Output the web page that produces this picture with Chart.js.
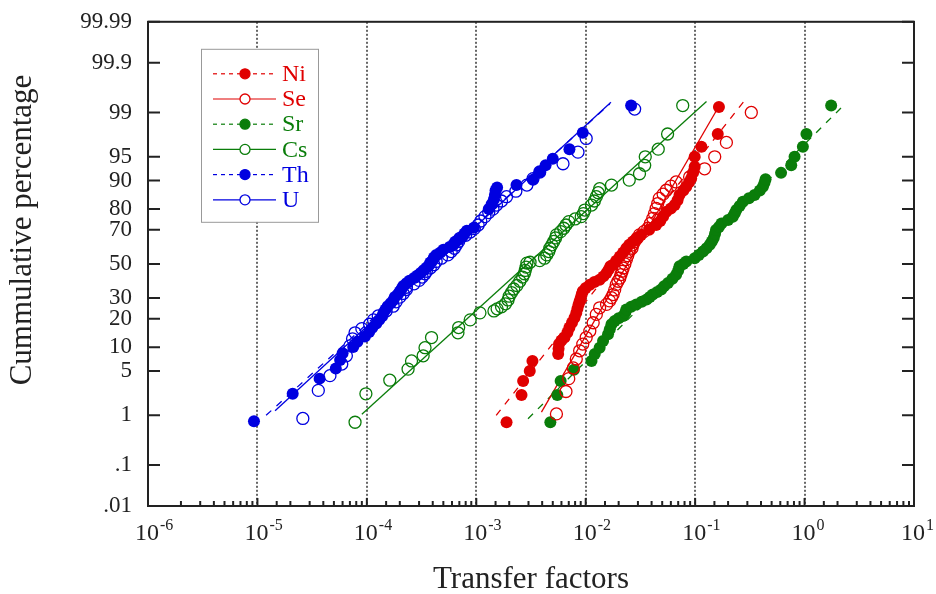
<!DOCTYPE html>
<html>
<head>
<meta charset="utf-8">
<title>Transfer factors - cumulative percentage</title>
<script src="https://cdn.jsdelivr.net/npm/chart.js@4.4.1/dist/chart.umd.min.js"></script>
<style>
  html, body { margin: 0; padding: 0; background: #fff; }
  #wrap { width: 936px; height: 594px; }
</style>
</head>
<body>
<div id="wrap"><canvas id="myChart" width="936" height="594"></canvas></div>
<script>
// ---- data ----
const yTickValues = [0.01, 0.1, 1, 5, 10, 20, 30, 50, 70, 80, 90, 95, 99, 99.9, 99.99];
const xTickExponents = [-6, -5, -4, -3, -2, -1, 0, 1];

const niX = [1.89e-3, 2.59e-3, 2.68e-3, 3.08e-3, 3.26e-3, 5.6e-3, 5.65e-3, 5.7e-3, 6.0e-3, 6.4e-3, 6.8e-3, 7.1e-3, 7.5e-3, 7.9e-3, 8.2e-3, 8.4e-3, 8.6e-3, 8.8e-3, 9.0e-3, 9.2e-3, 9.4e-3, 1.0e-2, 1.09e-2, 1.2e-2, 1.34e-2, 1.45e-2, 1.55e-2, 1.62e-2, 1.68e-2, 1.78e-2, 1.9e-2, 2.05e-2, 2.2e-2, 2.35e-2, 2.5e-2, 2.7e-2, 2.95e-2, 3.2e-2, 3.8e-2, 4.4e-2, 4.8e-2, 5.1e-2, 5.45e-2, 6.0e-2, 6.5e-2, 6.9e-2, 7.2e-2, 7.8e-2, 8.3e-2, 8.8e-2, 9.2e-2, 9.6e-2, 9.9e-2, 9.9e-2, 0.114, 0.161, 0.165];
const niPct = [0.75, 2.2, 3.6, 5.0, 6.8, 8.3, 9.6, 10.9, 12, 12.9, 14.6, 16.4, 18.4, 20.4, 22.5, 24.5, 26.5, 28.3, 30, 32, 33.7, 35.5, 37.5, 39, 40.4, 42.4, 44.4, 46.5, 48.5, 49.5, 52, 54.6, 57, 59.5, 61.5, 63.4, 65.3, 67.2, 70, 72.5, 74.5, 76.7, 78.8, 80.3, 81.7, 83.6, 85.5, 87, 88.2, 89.5, 90.5, 92, 93.2, 95, 96.4, 97.7, 99.2];

const seX = [5.4e-3, 6.6e-3, 7.0e-3, 7.7e-3, 8.2e-3, 8.8e-3, 9.4e-3, 1.01e-2, 1.09e-2, 1.17e-2, 1.25e-2, 1.34e-2, 1.55e-2, 1.65e-2, 1.72e-2, 1.78e-2, 1.84e-2, 1.9e-2, 1.97e-2, 2.05e-2, 2.1e-2, 2.15e-2, 2.2e-2, 2.28e-2, 2.35e-2, 2.42e-2, 2.5e-2, 2.65e-2, 2.7e-2, 2.8e-2, 2.95e-2, 3.1e-2, 3.4e-2, 3.7e-2, 3.9e-2, 4.1e-2, 4.25e-2, 4.4e-2, 4.55e-2, 4.7e-2, 5.1e-2, 5.45e-2, 6.0e-2, 6.7e-2, 8.9e-2, 0.122, 0.151, 0.193, 0.326];
const sePct = [1.06, 2.5, 3.9, 5.5, 7.2, 9.1, 10.9, 12.9, 15.1, 18.3, 21.9, 25, 26.7, 28.5, 30.2, 31.9, 34.5, 37.5, 39.5, 41.4, 43.5, 45.5, 47.5, 50, 52.6, 55, 57.6, 59.5, 61.5, 63.4, 65.3, 67.2, 69, 70.8, 73.3, 75.8, 78, 80.3, 82.3, 84.3, 85.8, 87.1, 88.4, 89.6, 90.9, 92.8, 95, 96.9, 99.0];

const srX = [4.75e-3, 5.5e-3, 5.9e-3, 7.8e-3, 1.13e-2, 1.21e-2, 1.34e-2, 1.44e-2, 1.6e-2, 1.66e-2, 1.72e-2, 1.84e-2, 2.0e-2, 2.2e-2, 2.3e-2, 2.35e-2, 2.6e-2, 2.9e-2, 3.25e-2, 3.6e-2, 3.85e-2, 4.1e-2, 4.5e-2, 4.9e-2, 5.2e-2, 5.65e-2, 6.2e-2, 6.7e-2, 7.0e-2, 7.2e-2, 7.8e-2, 8.3e-2, 9.9e-2, 0.108, 0.118, 0.127, 0.136, 0.142, 0.148, 0.152, 0.155, 0.165, 0.174, 0.2, 0.221, 0.23, 0.238, 0.255, 0.273, 0.31, 0.349, 0.39, 0.416, 0.43, 0.44, 0.61, 0.755, 0.81, 0.965, 1.04, 1.75];
const srPct = [0.75, 2.2, 3.6, 5.2, 6.8, 8.3, 9.9, 11.8, 14, 15.8, 17.7, 19, 20.2, 21.2, 22.7, 24.2, 25.5, 26.7, 28, 29.2, 30.5, 31.9, 33.3, 34.7, 36.5, 38.5, 41, 43.4, 46, 48.5, 50, 51.5, 53.5, 55.5, 57.6, 59.5, 61.5, 63.4, 65.5, 67.8, 69.9, 71.5, 73.3, 75, 76.6, 78.2, 79.6, 81.3, 83, 84.3, 85.5, 87, 88.2, 89.3, 90.3, 91.9, 93.5, 95, 96.4, 97.7, 99.25];

const csX = [7.8e-5, 9.8e-5, 1.62e-4, 2.38e-4, 2.56e-4, 3.27e-4, 3.4e-4, 3.9e-4, 6.8e-4, 6.9e-4, 8.8e-4, 1.08e-3, 1.45e-3, 1.55e-3, 1.7e-3, 1.85e-3, 1.95e-3, 2.0e-3, 2.1e-3, 2.2e-3, 2.35e-3, 2.5e-3, 2.65e-3, 2.75e-3, 2.8e-3, 2.85e-3, 2.9e-3, 3.1e-3, 3.8e-3, 4.2e-3, 4.4e-3, 4.6e-3, 4.7e-3, 4.9e-3, 5.1e-3, 5.3e-3, 5.4e-3, 5.9e-3, 6.3e-3, 6.6e-3, 7.0e-3, 8.0e-3, 9.1e-3, 9.5e-3, 9.8e-3, 1.13e-2, 1.2e-2, 1.25e-2, 1.3e-2, 1.34e-2, 1.72e-2, 2.5e-2, 3.1e-2, 3.46e-2, 3.5e-2, 4.6e-2, 5.6e-2, 7.7e-2];
const csPct = [0.75, 2.3, 3.7, 5.3, 6.8, 7.9, 9.9, 12.9, 14.5, 16.4, 19.5, 22.6, 23.5, 24.5, 25.5, 27, 29, 31, 33, 35, 37, 39.5, 42, 44, 46, 48, 50.5, 51, 52, 53.5, 55.5, 57.5, 59.5, 61.5, 63.5, 65.5, 67.2, 69, 70.8, 72.5, 74.2, 75.5, 76.6, 78, 79.6, 81.7, 83.3, 84.9, 86.3, 87.6, 88.7, 90.1, 91.7, 93.5, 95, 96.1, 97.7, 99.25];

const thX = [9.3e-6, 2.1e-5, 3.7e-5, 5.2e-5, 5.7e-5, 6.0e-5, 7.5e-5, 8.2e-5, 9.6e-5, 1.05e-4, 1.12e-4, 1.22e-4, 1.3e-4, 1.38e-4, 1.42e-4, 1.48e-4, 1.55e-4, 1.65e-4, 1.75e-4, 1.8e-4, 1.92e-4, 2.0e-4, 2.08e-4, 2.15e-4, 2.3e-4, 2.45e-4, 2.7e-4, 2.9e-4, 3.1e-4, 3.3e-4, 3.5e-4, 3.7e-4, 3.8e-4, 4.0e-4, 4.1e-4, 4.3e-4, 4.7e-4, 5.0e-4, 5.7e-4, 6.2e-4, 6.4e-4, 6.9e-4, 7.5e-4, 7.8e-4, 8.2e-4, 9.5e-4, 1.3e-3, 1.38e-3, 1.45e-3, 1.48e-3, 1.5e-3, 1.55e-3, 2.33e-3, 3.3e-3, 3.8e-3, 4.3e-3, 5.0e-3, 7.1e-3, 9.4e-3, 2.6e-2];
const thPct = [0.78, 2.3, 3.9, 5.4, 7.0, 8.5, 10.1, 11.6, 13.2, 14.8, 16.3, 18, 19.5, 21.1, 22.6, 24.2, 25.8, 27.3, 28.9, 30.5, 32, 33.6, 35.2, 36.7, 38.3, 39.8, 41.4, 43, 44.5, 46.1, 47.7, 49.2, 50.8, 52.3, 53.9, 55.5, 57, 58.6, 60.2, 61.7, 63.3, 64.8, 66.4, 68, 69.5, 71.1, 80, 82, 84, 85.5, 87, 88, 88.7, 90.2, 92.1, 93.5, 94.7, 96.1, 97.8, 99.25];

const uX = [2.6e-5, 3.6e-5, 4.6e-5, 5.9e-5, 6.5e-5, 7.0e-5, 7.4e-5, 7.8e-5, 9.0e-5, 1.06e-4, 1.15e-4, 1.27e-4, 1.5e-4, 1.74e-4, 1.85e-4, 2.0e-4, 2.15e-4, 2.3e-4, 2.3e-4, 2.7e-4, 3.0e-4, 3.2e-4, 3.4e-4, 3.5e-4, 3.8e-4, 4.1e-4, 4.3e-4, 4.8e-4, 5.5e-4, 5.9e-4, 6.3e-4, 6.6e-4, 6.9e-4, 7.1e-4, 8.0e-4, 8.8e-4, 9.6e-4, 1.04e-3, 1.1e-3, 1.2e-3, 1.3e-3, 1.42e-3, 1.53e-3, 1.7e-3, 1.89e-3, 2.3e-3, 2.9e-3, 3.3e-3, 3.8e-3, 6.2e-3, 8.5e-3, 1.01e-2, 2.8e-2];
const uPct = [0.88, 2.6, 4.3, 6.2, 7.9, 10.4, 12.5, 14.5, 16, 17.7, 19.5, 21.2, 23.5, 25.8, 28, 30.5, 32.5, 34.7, 36, 38, 40, 42, 44, 45.5, 47.5, 49.5, 51.5, 53.5, 55.5, 57.5, 59.5, 61.5, 63.5, 65.3, 67, 68.8, 70.6, 72.5, 74.5, 76.6, 78.5, 80, 81.7, 83.3, 84.9, 86.8, 88.7, 90.5, 92.1, 93.8, 95.7, 97.3, 99.13];

// fitted lines, two end points each
const niFitX = [1.52e-3, 0.289];  const niFitPct = [1.0, 99.43];
const seFitX = [3.94e-3, 0.167];  const seFitPct = [1.14, 99.26];
const srFitX = [2.97e-3, 2.18];   const srFitPct = [0.87, 99.19];
const csFitX = [9.0e-5, 0.127];   const csFitPct = [1.05, 99.37];
const thFitX = [1.2e-5, 1.66e-2]; const thFitPct = [1.0, 99.3];
const uFitX = [1.45e-5, 1.7e-2];  const uFitPct = [1.2, 99.35];

const RED = '#e00000', GREEN = '#0a7d0a', BLUE = '#0000e0';
const SERIF = "'Liberation Serif', 'Times New Roman', serif";

const series = [
    { name: 'Ni', color: RED,   filled: true,  x: niX, p: niPct, fx: niFitX, fp: niFitPct },
    { name: 'Se', color: RED,   filled: false, x: seX, p: sePct, fx: seFitX, fp: seFitPct },
    { name: 'Sr', color: GREEN, filled: true,  x: srX, p: srPct, fx: srFitX, fp: srFitPct },
    { name: 'Cs', color: GREEN, filled: false, x: csX, p: csPct, fx: csFitX, fp: csFitPct },
    { name: 'Th', color: BLUE,  filled: true,  x: thX, p: thPct, fx: thFitX, fp: thFitPct },
    { name: 'U',  color: BLUE,  filled: false, x: uX,  p: uPct,  fx: uFitX,  fp: uFitPct }
];

// ---- normal probability scale ----
function probit(p) {
    const a = [-3.969683028665376e+01, 2.209460984245205e+02, -2.759285104469687e+02, 1.383577518672690e+02, -3.066479806614716e+01, 2.506628277459239e+00];
    const b = [-5.447609879822406e+01, 1.615858368580409e+02, -1.556989798598866e+02, 6.680131188771972e+01, -1.328068155288572e+01];
    const c = [-7.784894002430293e-03, -3.223964580411365e-01, -2.400758277161838e+00, -2.549732539343734e+00, 4.374664141464968e+00, 2.938163982698783e+00];
    const d = [7.784695709041462e-03, 3.224671290700398e-01, 2.445134137142996e+00, 3.754408661907416e+00];
    const pl = 0.02425;
    let q, r;
    if (p < pl) {
        q = Math.sqrt(-2 * Math.log(p));
        return (((((c[0]*q+c[1])*q+c[2])*q+c[3])*q+c[4])*q+c[5]) / ((((d[0]*q+d[1])*q+d[2])*q+d[3])*q+1);
    }
    if (p > 1 - pl) {
        q = Math.sqrt(-2 * Math.log(1 - p));
        return -(((((c[0]*q+c[1])*q+c[2])*q+c[3])*q+c[4])*q+c[5]) / ((((d[0]*q+d[1])*q+d[2])*q+d[3])*q+1);
    }
    q = p - 0.5; r = q * q;
    return (((((a[0]*r+a[1])*r+a[2])*r+a[3])*r+a[4])*r+a[5])*q / (((((b[0]*r+b[1])*r+b[2])*r+b[3])*r+b[4])*r+1);
}

function normCdf(z) {
    // Abramowitz-Stegun erf approximation
    const t = 1 / (1 + 0.3275911 * Math.abs(z) / Math.SQRT2);
    const y = 1 - (((((1.061405429*t - 1.453152027)*t) + 1.421413741)*t - 0.284496736)*t + 0.254829592)*t * Math.exp(-z*z/2);
    return z >= 0 ? 0.5 * (1 + y) : 0.5 * (1 - y);
}

class ProbitScale extends Chart.Scale {
    determineDataLimits() {
        this.min = this.options.min;
        this.max = this.options.max;
    }
    buildTicks() {
        return yTickValues.map(v => ({ value: v }));
    }
    getLabelForValue(v) {
        return String(v);
    }
    configure() {
        super.configure();
        this._zStart = probit(this.min / 100);
        this._zEnd = probit(this.max / 100);
    }
    getPixelForValue(v) {
        const z = probit(v / 100);
        return this.getPixelForDecimal((z - this._zStart) / (this._zEnd - this._zStart));
    }
    getValueForPixel(px) {
        const dec = this.getDecimalForPixel(px);
        return 100 * normCdf(this._zStart + dec * (this._zEnd - this._zStart));
    }
}
ProbitScale.id = 'probit';
ProbitScale.defaults = {};
Chart.register(ProbitScale);

function isDecade(v) {
    const l = Math.log10(v);
    return Math.abs(l - Math.round(l)) < 1e-6;
}

// ---- datasets ----
const datasets = [];
series.forEach(s => {
    datasets.push({
        label: s.name,
        data: s.x.map((x, i) => ({ x: x, y: s.p[i] })),
        showLine: false,
        pointRadius: 6,
        pointHoverRadius: 6,
        pointBackgroundColor: s.filled ? s.color : 'rgba(0,0,0,0)',
        pointBorderColor: s.color,
        pointBorderWidth: s.filled ? 0 : 1.3,
        order: 0
    });
    datasets.push({
        label: s.name + ' fit',
        data: s.fx.map((x, i) => ({ x: x, y: s.fp[i] })),
        showLine: true,
        borderColor: s.color,
        borderWidth: 1.3,
        borderDash: s.filled ? [7, 7] : [],
        pointRadius: 0,
        fill: false,
        order: 1
    });
});

// frame, inward ticks, x labels with superscripts, titles and boxed legend
const decorations = {
    id: 'decorations',
    afterDraw(chart) {
        const ctx = chart.ctx;
        const area = chart.chartArea;
        const xs = chart.scales.x, ys = chart.scales.y;
        ctx.save();

        ctx.strokeStyle = '#222';
        ctx.lineWidth = 2;
        ys.ticks.forEach(t => {
            const py = ys.getPixelForValue(t.value);
            ctx.beginPath();
            ctx.moveTo(area.left, py); ctx.lineTo(area.left + 12, py);
            ctx.moveTo(area.right, py); ctx.lineTo(area.right - 12, py);
            ctx.stroke();
        });
        xs.ticks.forEach(t => {
            const px = xs.getPixelForValue(t.value);
            ctx.beginPath();
            ctx.moveTo(px, area.bottom);
            ctx.lineTo(px, area.bottom - (isDecade(t.value) ? 8 : 5));
            ctx.stroke();
        });
        ctx.strokeRect(area.left, area.top, area.right - area.left, area.bottom - area.top);

        // x tick labels 10^n
        ctx.fillStyle = '#222';
        ctx.textBaseline = 'alphabetic';
        xTickExponents.forEach(e => {
            const px = xs.getPixelForValue(Math.pow(10, e));
            ctx.font = '24px ' + SERIF;
            ctx.textAlign = 'center';
            ctx.fillText('10', px - 1, 540);
            const w = ctx.measureText('10').width;
            ctx.font = '16px ' + SERIF;
            ctx.textAlign = 'left';
            ctx.fillText(e < 0 ? '-' + Math.abs(e) : String(e), px - 1 + w / 2 + 1, 530);
        });

        // axis titles
        ctx.font = '31px ' + SERIF;
        ctx.textAlign = 'center';
        ctx.fillText('Transfer factors', (area.left + area.right) / 2, 588);
        ctx.save();
        ctx.translate(23, 230);
        ctx.rotate(-Math.PI / 2);
        ctx.textBaseline = 'middle';
        ctx.fillText('Cummulative percentage', 0, 0);
        ctx.restore();

        // legend box
        const lx = area.left + 53, ly = area.top + 27, lw = 117, lh = 173;
        ctx.fillStyle = '#fff';
        ctx.fillRect(lx, ly, lw, lh);
        ctx.strokeStyle = '#999';
        ctx.lineWidth = 1;
        ctx.strokeRect(lx + 0.5, ly + 0.5, lw, lh);
        series.forEach((s, i) => {
            const y = ly + 25 + i * 25.2;
            ctx.strokeStyle = s.color;
            ctx.lineWidth = 1.2;
            ctx.setLineDash(s.filled ? [4, 4] : []);
            ctx.beginPath();
            ctx.moveTo(lx + 12, y); ctx.lineTo(lx + 75, y);
            ctx.stroke();
            ctx.setLineDash([]);
            ctx.beginPath();
            ctx.arc(lx + 44, y, 5, 0, Math.PI * 2);
            ctx.fillStyle = s.filled ? s.color : '#fff';
            ctx.fill();
            ctx.lineWidth = 1.3;
            ctx.stroke();
            ctx.fillStyle = s.color;
            ctx.font = '24px ' + SERIF;
            ctx.textAlign = 'left';
            ctx.textBaseline = 'middle';
            ctx.fillText(s.name, lx + 81, y + 1);
        });
        ctx.restore();
    }
};

const ctx = document.getElementById('myChart').getContext('2d');
new Chart(ctx, {
    type: 'scatter',
    data: { datasets: datasets },
    plugins: [decorations],
    options: {
        responsive: false,
        animation: false,
        devicePixelRatio: 1,
        layout: { padding: { left: 0, top: 19, right: 22, bottom: 0 } },
        plugins: {
            legend: { display: false },
            tooltip: { enabled: false }
        },
        scales: {
            x: {
                type: 'logarithmic',
                min: 1e-6,
                max: 10,
                ticks: { display: false },
                grid: {
                    drawTicks: false,
                    lineWidth: 2,
                    color: c => (c.tick && isDecade(c.tick.value)) ? '#666' : 'rgba(0,0,0,0)'
                },
                border: { display: false, dash: [2, 2] },
                afterFit: s => { s.width = s.width; s.height = 88; }
            },
            y: {
                type: 'probit',
                position: 'left',
                min: 0.01,
                max: 99.99,
                grid: { display: false },
                border: { display: false },
                ticks: {
                    padding: 8,
                    color: '#222',
                    font: { family: SERIF, size: 23 },
                    callback: v => (v < 1 ? String(v).replace('0.', '.') : String(v))
                },
                afterFit: s => { s.width = 148; }
            }
        }
    }
});
</script>
</body>
</html>
